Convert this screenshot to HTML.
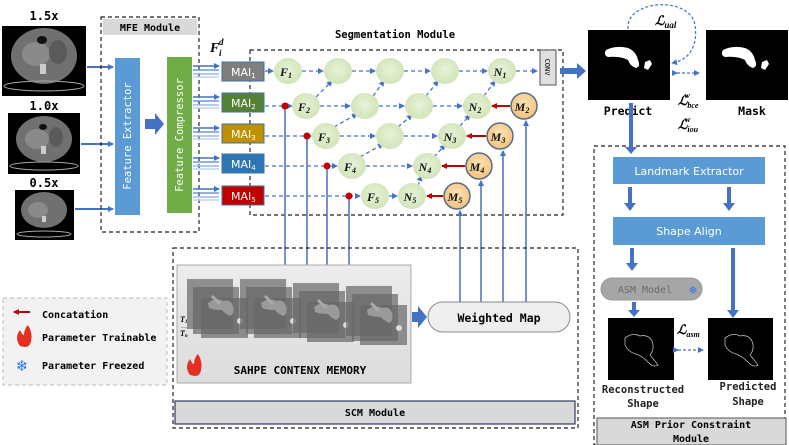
<!DOCTYPE html>
<html><head><meta charset="utf-8"><style>
html,body{margin:0;padding:0;background:#fff;}
svg{display:block;}
.m{font-family:"DejaVu Sans Mono","Liberation Mono",monospace;}
.s{font-family:"DejaVu Sans","Liberation Sans",sans-serif;}
.mt{font-family:"Liberation Serif",serif;font-style:italic;font-weight:bold;}
</style></head><body>
<svg width="789" height="445" viewBox="0 0 789 445" xmlns="http://www.w3.org/2000/svg">
<defs>
<marker id="ab" markerWidth="6" markerHeight="6" refX="5" refY="3" orient="auto" markerUnits="userSpaceOnUse"><path d="M0,0 L6,3 L0,6z" fill="#4472c4"/></marker>
<marker id="ar" markerWidth="6" markerHeight="6" refX="5" refY="3" orient="auto" markerUnits="userSpaceOnUse"><path d="M0,0 L6,3 L0,6z" fill="#c00000"/></marker>
<radialGradient id="gg" cx="50%" cy="45%" r="60%"><stop offset="0" stop-color="#e8f2d8"/><stop offset="1" stop-color="#cfe3b5"/></radialGradient>
<radialGradient id="og" cx="50%" cy="40%" r="60%"><stop offset="0" stop-color="#fde3b8"/><stop offset="1" stop-color="#f2c27a"/></radialGradient>
<linearGradient id="pg" x1="0" y1="0" x2="0" y2="1"><stop offset="0" stop-color="#ececec"/><stop offset="1" stop-color="#dcdcdc"/></linearGradient>
</defs>

<!-- CT images -->
<g class="m" font-size="12" text-anchor="middle" fill="#000" font-weight="bold">
<text x="44" y="20">1.5x</text><text x="44" y="110">1.0x</text><text x="44" y="187">0.5x</text>
</g>
<g>
<rect x="2" y="26" width="84" height="70" fill="#000"/>
<ellipse cx="44" cy="56" rx="33" ry="28" fill="#707070"/><ellipse cx="36" cy="54" rx="14" ry="12" fill="#8a8a8a"/><ellipse cx="58" cy="52" rx="9" ry="12" fill="#5a5a5a"/><ellipse cx="42" cy="40" rx="5" ry="4" fill="#111"/><rect x="40" y="64" width="6" height="10" fill="#ccc"/>
<ellipse cx="44" cy="86" rx="40" ry="5" fill="none" stroke="#aaa" stroke-width="1"/>
<rect x="8" y="113" width="72" height="61" fill="#000"/>
<ellipse cx="44" cy="139" rx="28" ry="23" fill="#707070"/><ellipse cx="37" cy="139" rx="12" ry="10" fill="#8a8a8a"/><ellipse cx="56" cy="137" rx="7" ry="10" fill="#5a5a5a"/><ellipse cx="43" cy="127" rx="4" ry="3" fill="#111"/><rect x="41" y="146" width="5" height="8" fill="#ccc"/>
<ellipse cx="44" cy="166" rx="34" ry="4" fill="none" stroke="#aaa" stroke-width="1"/>
<rect x="15" y="190" width="59" height="50" fill="#000"/>
<ellipse cx="44" cy="210" rx="23" ry="18" fill="#707070"/><ellipse cx="38" cy="210" rx="10" ry="8" fill="#8a8a8a"/><rect x="42" y="216" width="4" height="6" fill="#ccc"/>
<ellipse cx="44" cy="234" rx="27" ry="3" fill="none" stroke="#aaa" stroke-width="1"/>
</g>
<g stroke="#4472c4" stroke-width="2" marker-end="url(#ab)">
<line x1="87" y1="67" x2="113" y2="67"/><line x1="81" y1="144" x2="113" y2="144"/><line x1="75" y1="209" x2="113" y2="209"/>
</g>

<!-- MFE -->
<rect x="101" y="17" width="98" height="215" fill="none" stroke="#222" stroke-dasharray="4,3" stroke-width="1.2"/>
<rect x="103" y="19" width="94" height="16" fill="#d9d9d9"/>
<text x="150" y="31" class="m" font-size="10" text-anchor="middle" font-weight="bold">MFE Module</text>
<rect x="115" y="58" width="25" height="157" fill="#5b9bd5"/>
<text transform="translate(131,136) rotate(-90)" class="m" font-size="10.5" fill="#fff" text-anchor="middle">Feature Extractor</text>
<path d="M145,119 h10 v-6 l9,11 l-9,11 v-6 h-10z" fill="#4472c4"/>
<rect x="167" y="57" width="25" height="156" fill="#70ad47"/>
<text transform="translate(183,135) rotate(-90)" class="m" font-size="10.5" fill="#fff" text-anchor="middle">Feature Compressor</text>

<g stroke-width="1.5">
<g stroke="#4472c4"><line x1="193" y1="66" x2="219" y2="66" marker-end="url(#ab)"/><line x1="193" y1="97" x2="219" y2="97" marker-end="url(#ab)"/><line x1="193" y1="128" x2="219" y2="128" marker-end="url(#ab)"/><line x1="193" y1="158" x2="219" y2="158" marker-end="url(#ab)"/><line x1="193" y1="189" x2="219" y2="189" marker-end="url(#ab)"/></g>
<g stroke="#6f95d8"><line x1="193" y1="70" x2="219" y2="70"/><line x1="193" y1="101" x2="219" y2="101"/><line x1="193" y1="132" x2="219" y2="132"/><line x1="193" y1="162" x2="219" y2="162"/><line x1="193" y1="193" x2="219" y2="193"/></g>
<g stroke="#9db6e6"><line x1="193" y1="74" x2="219" y2="74"/><line x1="193" y1="105" x2="219" y2="105"/><line x1="193" y1="136" x2="219" y2="136"/><line x1="193" y1="166" x2="219" y2="166"/><line x1="193" y1="197" x2="219" y2="197"/></g>
<g stroke="#c3d3f0"><line x1="193" y1="77" x2="219" y2="77"/><line x1="193" y1="108" x2="219" y2="108"/><line x1="193" y1="139" x2="219" y2="139"/><line x1="193" y1="169" x2="219" y2="169"/><line x1="193" y1="200" x2="219" y2="200"/></g>
</g>
<text x="210" y="52" class="mt" font-size="14">F</text><text x="219" y="56" class="mt" font-size="9">i</text><text x="219" y="45" class="mt" font-size="9">d</text>

<!-- Segmentation -->
<text x="395" y="38" class="m" font-size="10.5" text-anchor="middle" font-weight="bold">Segmentation Module</text>
<rect x="250" y="50" width="313" height="165" fill="none" stroke="#222" stroke-dasharray="4,3" stroke-width="1.2"/>

<g stroke="#41719c" stroke-width="1">
<rect x="222" y="62" width="42" height="19" fill="#7f7f7f"/>
<rect x="222" y="93" width="42" height="19" fill="#548235"/>
<rect x="222" y="124" width="42" height="19" fill="#bf9000"/>
<rect x="222" y="154" width="42" height="19" fill="#2e75b6"/>
<rect x="222" y="186" width="42" height="19" fill="#c00000"/>
</g>
<g class="s" font-size="11" fill="#fff">
<text x="231" y="76">MAI<tspan font-size="7" dy="2">1</tspan></text>
<text x="231" y="107">MAI<tspan font-size="7" dy="2">2</tspan></text>
<text x="231" y="138">MAI<tspan font-size="7" dy="2">3</tspan></text>
<text x="231" y="168">MAI<tspan font-size="7" dy="2">4</tspan></text>
<text x="231" y="200">MAI<tspan font-size="7" dy="2">5</tspan></text>
</g>

<g stroke="#4472c4" stroke-width="1.3" stroke-dasharray="4,3" fill="none" marker-end="url(#ab)">
<line x1="265" y1="71" x2="273" y2="71" stroke-dasharray="none"/>
<line x1="302" y1="71" x2="323" y2="71"/><line x1="352" y1="71" x2="375" y2="71"/><line x1="404" y1="71" x2="430" y2="71"/><line x1="459" y1="71" x2="487" y2="71"/><line x1="516" y1="71" x2="537" y2="71"/>
<line x1="265" y1="106" x2="292" y2="106"/><line x1="320" y1="106" x2="350" y2="106"/><line x1="379" y1="106" x2="404" y2="106"/><line x1="433" y1="106" x2="462" y2="106"/>
<line x1="265" y1="136" x2="311" y2="136"/><line x1="340" y1="136" x2="375" y2="136"/><line x1="404" y1="136" x2="437" y2="136"/>
<line x1="265" y1="166" x2="337" y2="166"/><line x1="366" y1="166" x2="412" y2="166"/>
<line x1="265" y1="196" x2="360" y2="196"/><line x1="389" y1="196" x2="397" y2="196"/>
<line x1="316" y1="97" x2="332" y2="81"/><line x1="373" y1="96" x2="384" y2="81"/><line x1="426" y1="96" x2="438" y2="81"/><line x1="484" y1="96" x2="495" y2="81"/>
<line x1="334" y1="127" x2="357" y2="114"/><line x1="398" y1="127" x2="412" y2="115"/><line x1="460" y1="126" x2="470" y2="115"/>
<line x1="360" y1="157" x2="383" y2="144"/><line x1="434" y1="157" x2="445" y2="145"/>
<line x1="418" y1="186" x2="421" y2="176"/>
</g>

<g fill="url(#gg)">
<ellipse cx="288" cy="71" rx="14" ry="13"/><ellipse cx="338" cy="71" rx="14" ry="13"/><ellipse cx="390" cy="71" rx="14" ry="13"/><ellipse cx="445" cy="71" rx="14" ry="13"/><ellipse cx="502" cy="71" rx="14" ry="13"/>
<ellipse cx="306" cy="106" rx="14" ry="13"/><ellipse cx="365" cy="106" rx="14" ry="13"/><ellipse cx="419" cy="106" rx="14" ry="13"/><ellipse cx="477" cy="106" rx="14" ry="13"/>
<ellipse cx="326" cy="136" rx="14" ry="13"/><ellipse cx="390" cy="136" rx="14" ry="13"/><ellipse cx="452" cy="136" rx="14" ry="13"/>
<ellipse cx="352" cy="166" rx="14" ry="13"/><ellipse cx="427" cy="166" rx="14" ry="13"/>
<ellipse cx="375" cy="196" rx="14" ry="13"/><ellipse cx="412" cy="196" rx="14" ry="13"/>
</g>
<g fill="url(#og)" stroke="#5a6b86" stroke-width="1.5">
<circle cx="524" cy="106" r="13"/><circle cx="500" cy="136" r="13"/><circle cx="479" cy="166" r="13"/><circle cx="457" cy="196" r="13"/>
</g>
<g class="mt" font-size="12" text-anchor="middle" fill="#111">
<text x="286" y="76">F<tspan font-size="8" dy="2">1</tspan></text>
<text x="304" y="111">F<tspan font-size="8" dy="2">2</tspan></text>
<text x="324" y="141">F<tspan font-size="8" dy="2">3</tspan></text>
<text x="350" y="171">F<tspan font-size="8" dy="2">4</tspan></text>
<text x="373" y="201">F<tspan font-size="8" dy="2">5</tspan></text>
<text x="500" y="76">N<tspan font-size="8" dy="2">1</tspan></text>
<text x="475" y="111">N<tspan font-size="8" dy="2">2</tspan></text>
<text x="450" y="141">N<tspan font-size="8" dy="2">3</tspan></text>
<text x="425" y="171">N<tspan font-size="8" dy="2">4</tspan></text>
<text x="410" y="201">N<tspan font-size="8" dy="2">5</tspan></text>
<text x="522" y="111">M<tspan font-size="8" dy="2">2</tspan></text>
<text x="498" y="141">M<tspan font-size="8" dy="2">3</tspan></text>
<text x="477" y="171">M<tspan font-size="8" dy="2">4</tspan></text>
<text x="455" y="201">M<tspan font-size="8" dy="2">5</tspan></text>
</g>
<g stroke="#c00000" stroke-width="2" marker-end="url(#ar)">
<line x1="510" y1="106" x2="492" y2="106"/><line x1="486" y1="136" x2="467" y2="136"/><line x1="465" y1="166" x2="442" y2="166"/><line x1="443" y1="196" x2="427" y2="196"/>
</g>
<rect x="540" y="50" width="16" height="35" fill="#e0e0e0" stroke="#555"/>
<text transform="translate(545,67) rotate(90)" class="m" font-size="7" text-anchor="middle">CONV</text>
<path d="M560,68 h17 v-5 l9,8 l-9,8 v-5 h-17z" fill="#4472c4"/>

<g stroke="#4472c4" stroke-width="1.5" fill="none">
<polyline points="285,106 285,268 210,268 210,279" marker-end="url(#ab)"/>
<polyline points="307,136 307,272 262,272 262,281" marker-end="url(#ab)"/>
<polyline points="327,166 327,272 315,272 315,283" marker-end="url(#ab)"/>
<polyline points="349,196 349,275 370,275 370,285" marker-end="url(#ab)"/>
<line x1="460" y1="302" x2="460" y2="211" marker-end="url(#ab)"/>
<line x1="481" y1="302" x2="481" y2="181" marker-end="url(#ab)"/>
<line x1="503" y1="302" x2="503" y2="151" marker-end="url(#ab)"/>
<line x1="526" y1="302" x2="526" y2="121" marker-end="url(#ab)"/>
</g>
<g fill="#c00000"><circle cx="285" cy="106" r="3.5"/><circle cx="307" cy="136" r="3.5"/><circle cx="327" cy="166" r="3.5"/><circle cx="349" cy="196" r="3.5"/></g>

<!-- Predict / Mask -->
<rect x="588" y="30" width="82" height="70" fill="#000"/>
<path d="M606,50 q10,-5 22,-2 q8,3 10,12 q3,6 -2,8 q-6,-2 -8,-8 q-8,-4 -20,-3 q-5,-2 -2,-7z" fill="#fff"/><path d="M645,62 l5,-2 l2,4 l-4,6 l-4,-2z" fill="#fff"/>
<rect x="706" y="30" width="82" height="70" fill="#000"/>
<path d="M723,50 q10,-5 22,-2 q8,3 10,12 q3,6 -2,8 q-6,-2 -8,-8 q-8,-4 -20,-3 q-5,-2 -2,-7z" fill="#fff"/><path d="M762,62 l5,-2 l2,4 l-4,6 l-4,-2z" fill="#fff"/>
<text x="628" y="115" class="m" font-size="11.5" text-anchor="middle" font-weight="bold">Predict</text>
<text x="752" y="115" class="m" font-size="11.5" text-anchor="middle" font-weight="bold">Mask</text>
<path d="M628,29 C625,0 690,-5 695,25 C698,45 690,60 672,63" fill="none" stroke="#4472c4" stroke-width="1.2" stroke-dasharray="3,2" marker-end="url(#ab)"/>
<text x="655" y="25" class="mt" font-size="13" font-weight="normal">ℒ<tspan font-size="9" dy="3">ual</tspan></text>
<line x1="677" y1="73" x2="699" y2="73" stroke="#4472c4" stroke-width="1.3" stroke-dasharray="3,2" marker-start="url(#ab)" marker-end="url(#ab)"/>
<text x="678" y="105" class="mt" font-size="13" font-weight="normal">ℒ<tspan font-size="8" dy="3">bce</tspan><tspan font-size="8" dx="-14" dy="-10">w</tspan></text>
<text x="678" y="129" class="mt" font-size="13" font-weight="normal">ℒ<tspan font-size="8" dy="3">iou</tspan><tspan font-size="8" dx="-13" dy="-10">w</tspan></text>

<!-- ASM -->
<rect x="594" y="146" width="191" height="299" fill="none" stroke="#222" stroke-dasharray="4,3" stroke-width="1.2"/>
<path d="M629,103 v44 h-4 l6,7 l6,-7 h-4 v-44z" fill="#4472c4"/>
<rect x="613" y="157" width="152" height="27" fill="#5b9bd5"/>
<text x="689" y="175" class="s" font-size="11" fill="#fff" text-anchor="middle">Landmark Extractor</text>
<path d="M628,187 v16 h-4 l6,8 l6,-8 h-4 v-16z M727,187 v16 h-4 l6,8 l6,-8 h-4 v-16z" fill="#4472c4"/>
<rect x="613" y="217" width="152" height="28" fill="#5b9bd5"/>
<text x="689" y="235" class="s" font-size="11" fill="#fff" text-anchor="middle">Shape Align</text>
<path d="M630,248 v15 h-4 l6,8 l6,-8 h-4 v-15z M731,248 v62 h-4 l6,8 l6,-8 h-4 v-62z" fill="#4472c4"/>
<rect x="601" y="278" width="101" height="22" rx="11" fill="#a6a6a6" stroke="#999"/>
<text x="645" y="293" class="m" font-size="10" fill="#6a6a6a" text-anchor="middle">ASM Model</text>
<text x="693" y="294" font-size="11" fill="#2e75e6" text-anchor="middle" class="s">❄</text>
<path d="M632,302 v8 h-4 l6,7 l6,-7 h-4 v-8z" fill="#4472c4"/>
<rect x="608" y="318" width="66" height="62" fill="#000"/>
<rect x="708" y="318" width="65" height="62" fill="#000"/>
<path d="M625,338 q8,-6 15,-2 q8,-2 12,5 q3,8 -2,14 q5,6 8,10 q-5,3 -10,-3 q-6,-6 -12,-8 q-8,-2 -11,-9z" fill="none" stroke="#bbb" stroke-width="0.8"/>
<path d="M725,338 q8,-6 15,-2 q8,-2 12,5 q3,8 -2,14 q5,6 8,10 q-5,3 -10,-3 q-6,-6 -12,-8 q-8,-2 -11,-9z" fill="none" stroke="#bbb" stroke-width="0.8"/>
<text x="677" y="334" class="mt" font-size="13" font-weight="normal">ℒ<tspan font-size="8" dy="3">asm</tspan></text>
<line x1="678" y1="350" x2="703" y2="350" stroke="#4472c4" stroke-width="1.3" stroke-dasharray="3,2" marker-start="url(#ab)" marker-end="url(#ab)"/>
<g class="m" font-size="10.5" text-anchor="middle" font-weight="bold" fill="#222">
<text x="643" y="393">Reconstructed</text><text x="643" y="407">Shape</text>
<text x="748" y="390">Predicted</text><text x="748" y="405">Shape</text>
</g>
<rect x="597" y="418" width="189" height="27" fill="#d9d9d9" stroke="#555"/>
<g class="m" font-size="10" text-anchor="middle" font-weight="bold"><text x="691" y="428">ASM Prior Constraint</text><text x="691" y="442">Module</text></g>

<!-- SCM -->
<rect x="173" y="248" width="405" height="180" fill="none" stroke="#222" stroke-dasharray="4,3" stroke-width="1.2"/>
<rect x="177" y="265" width="234" height="118" fill="url(#pg)" stroke="#aaa"/>
<g fill="#666" fill-opacity="0.7">
<g id="st"><rect x="187" y="279" width="46" height="50"/><rect x="193" y="287" width="46" height="47"/><rect x="201" y="298" width="47" height="40"/>
<path d="M208,303 q8,-6 15,-2 q8,-2 10,5 q2,8 -3,10 q-6,-3 -8,-6 q-8,0 -13,-2z" fill="#9a9a9a" fill-opacity="1"/><path d="M212,296 l8,8" stroke="#aaa" stroke-width="3"/><circle cx="240" cy="321" r="3" fill="#ddd" fill-opacity="1"/></g>
<use href="#st" x="53"/><use href="#st" x="106" y="4"/><use href="#st" x="159" y="7"/>
</g>
<text x="180" y="322" class="mt" font-size="8">T<tspan font-size="5" dy="1">1</tspan></text>
<text x="181" y="328" font-size="6">…</text>
<text x="180" y="336" class="mt" font-size="8">T<tspan font-size="5" dy="1">n</tspan></text>
<path d="M190,375 q-6,-8 0,-16 q2,5 4,5 q0,-6 4,-10 q5,8 3,16 q-1,6 -6,6z" fill="#e33020"/>
<text x="300" y="374" class="m" font-size="11" text-anchor="middle" font-weight="bold">SAHPE CONTENX MEMORY</text>
<path d="M412,312 h6 v-6 l9,11 l-9,11 v-6 h-6z" fill="#4472c4"/>
<rect x="428" y="302" width="142" height="30" rx="15" fill="#efefef" stroke="#888"/>
<text x="499" y="322" class="m" font-size="11.5" text-anchor="middle" font-weight="bold">Weighted Map</text>
<rect x="175" y="401" width="400" height="23" fill="#d9d9d9" stroke="#2f3b5c" stroke-width="1.2"/>
<text x="375" y="416" class="m" font-size="10" text-anchor="middle" font-weight="bold">SCM Module</text>

<!-- legend -->
<rect x="3" y="298" width="164" height="87" fill="#f2f2f2" stroke="#bbb" stroke-dasharray="4,3"/>
<line x1="30" y1="312" x2="14" y2="312" stroke="#c00000" stroke-width="2" marker-end="url(#ar)"/>
<text x="42" y="318" class="m" font-size="10" font-weight="bold">Concatation</text>
<path d="M20,346 q-6,-8 0,-16 q2,5 4,5 q0,-6 4,-10 q5,8 3,16 q-1,6 -6,6z" fill="#e33020"/>
<text x="42" y="341" class="m" font-size="10" font-weight="bold">Parameter Trainable</text>
<text x="22" y="371" font-size="15" fill="#2e75e6" text-anchor="middle" class="s">❄</text>
<text x="42" y="369" class="m" font-size="10" font-weight="bold">Parameter Freezed</text>
</svg>
</body></html>
